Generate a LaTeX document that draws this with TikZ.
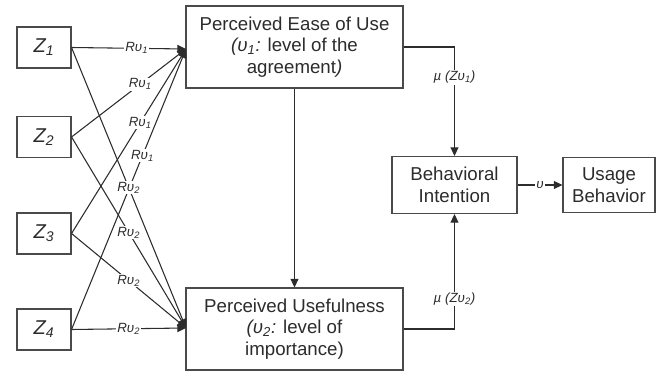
\documentclass[tikz,border=0pt]{standalone}
\usepackage{fontspec}
\setmainfont{Liberation Sans}
\usetikzlibrary{arrows.meta}
\definecolor{ink}{HTML}{2C2C2C}
\definecolor{edge}{HTML}{4A4A4A}
\begin{document}
\begin{tikzpicture}[x=0.75pt,y=-0.75pt,
  box/.style={draw=edge,line width=0.8pt,fill=white,text=ink,align=center,inner sep=1pt,
    font=\fontsize{14}{16.3}\selectfont},
  zbox/.style={box,minimum width=40.5pt,minimum height=30.75pt,font=\fontsize{15}{16}\selectfont},
  conn/.style={draw=ink,line width=0.8pt,-{Triangle[length=6.5pt,width=6pt]}},
  lab/.style={fill=white,text=ink,inner sep=0.8pt,font=\fontsize{10}{11}\selectfont\itshape}]
\useasboundingbox (0,0) rectangle (669,374);
% left boxes
\node[zbox] (z1) at (44,47.5) {\textit{Z\textsubscript{1}}};
\node[zbox] (z2) at (44,137) {\textit{Z\textsubscript{2}}};
\node[zbox] (z3) at (44,233.5) {\textit{Z\textsubscript{3}}};
\node[zbox] (z4) at (44,329.5) {\textit{Z\textsubscript{4}}};
% main boxes
\node[box,minimum width=162.75pt,minimum height=61.5pt] (peu) at (294.5,47)
  {Perceived Ease of Use\\\textit{(υ\textsubscript{1}:} level of the\\agreement\textit{)}};
\node[box,minimum width=162.75pt,minimum height=61.5pt] (pu) at (294.5,329)
  {Perceived Usefulness\\\textit{(υ\textsubscript{2}:} level of\\importance)};
\node[box,minimum width=93.75pt,minimum height=42.75pt] (bi) at (454.5,185)
  {Behavioral\\Intention};
\node[box,minimum width=69pt,minimum height=41.25pt] (ub) at (609,185)
  {Usage\\Behavior};
% convergence points
\coordinate (a1) at (186,49);
\coordinate (a2) at (186,328);
% paths to PEU
\draw[conn] (z1.east) -- node[lab,pos=.57]{Rυ\textsubscript{1}} (a1);
\draw[conn] (z2.east) -- node[lab,pos=.6]{Rυ\textsubscript{1}} (a1);
\draw[conn] (z3.east) -- node[lab,pos=.6]{Rυ\textsubscript{1}} (a1);
\draw[conn] (z4.east) -- node[lab,pos=.62]{Rυ\textsubscript{1}} (a1);
% paths to PU
\draw[conn] (z1.east) -- node[lab,pos=.5]{Rυ\textsubscript{2}} (a2);
\draw[conn] (z2.east) -- node[lab,pos=.5]{Rυ\textsubscript{2}} (a2);
\draw[conn] (z3.east) -- node[lab,pos=.5]{Rυ\textsubscript{2}} (a2);
\draw[conn] (z4.east) -- node[lab,pos=.5]{Rυ\textsubscript{2}} (a2);
% right side
\draw[conn] (peu) -- (pu);
\draw[conn] (peu.east) -| node[lab,pos=.64]{\textmu\ (Zυ\textsubscript{1})} (bi.north);
\draw[conn] (pu.east) -| node[lab,pos=.63]{\textmu\ (Zυ\textsubscript{2})} (bi.south);
\draw[conn] (bi) -- node[lab]{υ} (ub);
\end{tikzpicture}
\end{document}
